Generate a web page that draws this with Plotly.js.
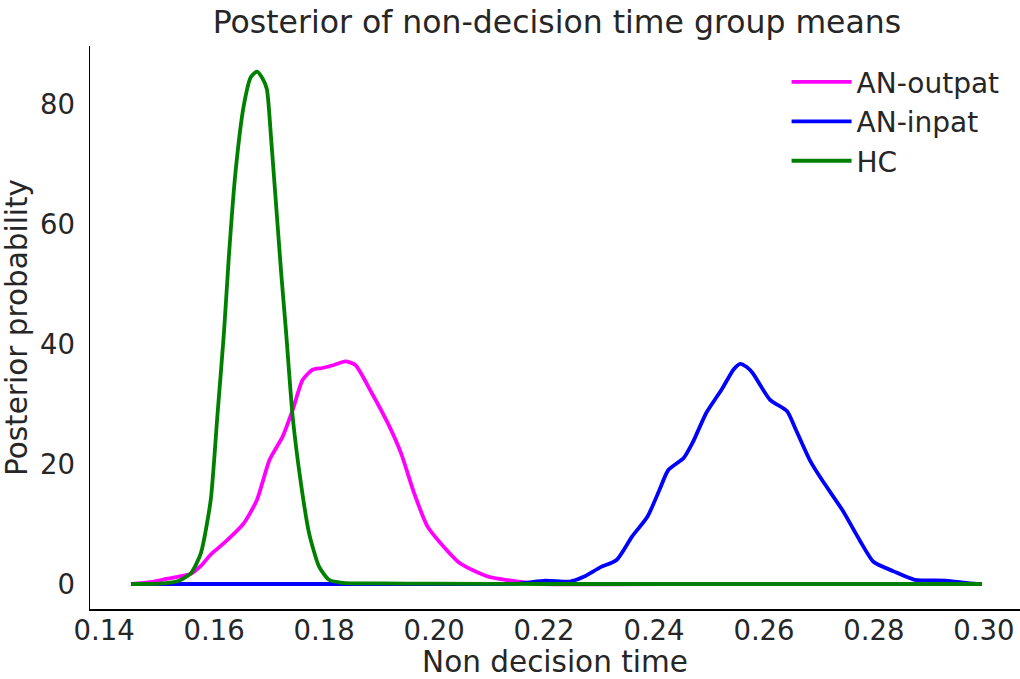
<!DOCTYPE html>
<html>
<head>
<meta charset="utf-8">
<script src="https://cdn.plot.ly/plotly-3.0.1.min.js"></script>
<style>html,body{margin:0;padding:0;background:#fff;}#chart{width:1020px;height:679px;}</style>
</head>
<body>
<div id="chart"></div>
<script>
var seriesNames = ["AN-outpat", "AN-inpat", "HC"];

var outpatX = [0.1449,0.1485,0.1516,0.1558,0.1576,0.1595,0.1618,0.1654,0.1678,0.1701,0.1725,0.1743,0.1761,0.1779,0.1797,0.1818,0.1839,0.1857,0.1887,0.1916,0.1940,0.1964,0.1988,0.2012,0.2048,0.2096,0.2130,0.2166,0.2200,0.2500,0.2996];
var outpatY = [0,0.3,0.9,1.7,3.0,5.0,6.8,10.1,14.0,20.7,24.6,29.0,34.0,35.7,36.0,36.5,37.1,36.5,31.8,26.8,21.8,15.1,9.6,6.8,3.4,1.3,0.7,0.25,0,0,0];

var inpatX = [0.1449,0.2000,0.2150,0.2203,0.2247,0.2272,0.2303,0.2332,0.2360,0.2388,0.2410,0.2426,0.2454,0.2470,0.2495,0.2523,0.2545,0.2557,0.2568,0.2579,0.2611,0.2642,0.2658,0.2683,0.2705,0.2742,0.2774,0.2799,0.2836,0.2874,0.2930,0.2974,0.2996];
var inpatY = [0,0,0.05,0.56,0.4,1.2,2.8,4.0,7.9,11.2,15.7,19.0,21.0,23.5,28.5,32.4,35.8,36.7,36.2,35.2,30.7,28.8,25.7,20.7,17.4,12.4,7.3,3.7,2.1,0.7,0.55,0.1,0];

var hcX = [0.1449,0.1500,0.1535,0.1558,0.1576,0.1594,0.1606,0.1618,0.1627,0.1639,0.1654,0.1667,0.1678,0.1688,0.1696,0.1704,0.1713,0.1722,0.1731,0.1743,0.1758,0.1773,0.1791,0.1809,0.1833,0.1900,0.2000,0.2200,0.2500,0.2800,0.2996];
var hcY = [0,0.05,0.5,1.8,5.1,14.0,27.9,41.8,54.6,68.6,79.7,84.5,85.4,84.3,82.5,74.0,63.0,52.0,42.0,27.9,16.8,8.4,2.9,0.7,0.2,0.1,0.05,0,0,0,0];

var xTickVals = [0.14,0.16,0.18,0.20,0.22,0.24,0.26,0.28,0.30];
var xTickText = ["0.14","0.16","0.18","0.20","0.22","0.24","0.26","0.28","0.30"];
var yTickVals = [0,20,40,60,80];
var yTickText = ["0","20","40","60","80"];

var colors = ["#ff00ff", "#0000ff", "#008000"];
var xs = [outpatX, inpatX, hcX];
var ys = [outpatY, inpatY, hcY];

var traces = seriesNames.map(function(name, i){
  return {
    x: xs[i], y: ys[i], name: name, type: "scatter", mode: "lines",
    line: {color: colors[i], width: 3.8, shape: "spline", smoothing: 0.6},
    hoverinfo: "skip"
  };
});

var font = "DejaVu Sans, Verdana, sans-serif";
var textColor = "#262626";

var layout = {
  width: 1020, height: 679,
  margin: {l: 90, r: 0, t: 46, b: 70, pad: 0},
  paper_bgcolor: "#ffffff", plot_bgcolor: "#ffffff",
  font: {family: font, size: 27, color: textColor},
  title: {text: "Posterior of non-decision time group means", font: {family: font, size: 31.5, color: textColor},
          x: 0.546, xanchor: "center", y: 0.967, yanchor: "middle", yref: "container"},
  xaxis: {
    range: [0.13745, 0.30655], tickvals: xTickVals, ticktext: xTickText,
    showgrid: false, zeroline: false, showline: true, linecolor: "#000000", linewidth: 1.5,
    ticks: "", ticklabelstandoff: -4, tickfont: {size: 27.5, color: textColor},
    title: {text: "Non decision time", font: {size: 29.5, color: textColor}, standoff: 6}
  },
  yaxis: {
    range: [-4.17, 89.67], tickvals: yTickVals, ticktext: yTickText,
    showgrid: false, zeroline: false, showline: true, linecolor: "#000000", linewidth: 1.5,
    ticks: "", ticklabelstandoff: 8, tickfont: {size: 27.5, color: textColor},
    title: {text: "Posterior probability", font: {size: 29.5, color: textColor}, standoff: 7}
  },
  showlegend: true,
  legend: {x: 0.749, xanchor: "left", y: 0.98, yanchor: "top", bgcolor: "rgba(0,0,0,0)",
           font: {size: 28, color: textColor}, itemwidth: 60, tracegroupgap: 0}
};

Plotly.newPlot("chart", traces, layout, {staticPlot: true, displayModeBar: false});
</script>
</body>
</html>
